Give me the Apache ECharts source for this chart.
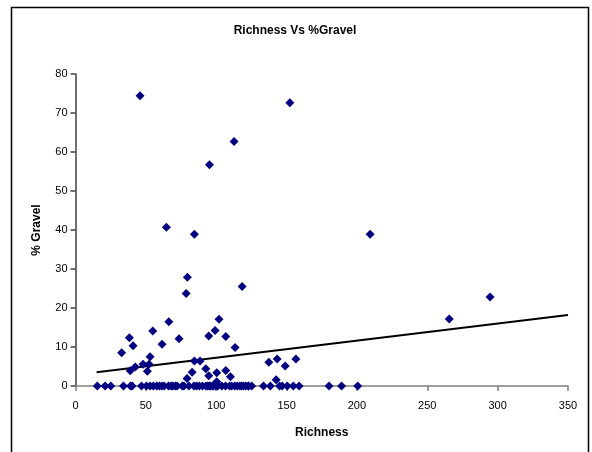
<!DOCTYPE html>
<html>
<head>
<meta charset="utf-8">
<script src="https://cdn.jsdelivr.net/npm/echarts@6/dist/echarts.min.js"></script>
<style>
  html, body { margin: 0; padding: 0; background: #fff; }
  #chart { width: 592px; height: 452px; }
</style>
</head>
<body>
<div id="chart"></div>
<script>
// Richness (x) of each sample and its % gravel (y)
const richness = [
  45.9, 95.2, 112.7, 152.3, 209.4, 265.6, 294.6,
  64.6, 84.5, 79.5, 78.6, 118.4,
  32.8, 38.3, 40.9, 38.9, 42.5, 48.0, 51.1, 52.3, 53.0, 54.9, 61.5, 66.3, 73.6,
  79.3, 82.9, 84.5, 88.5, 92.6, 94.7, 94.7, 99.2, 100.4, 102.0,
  106.8, 113.4, 106.8, 110.1, 100.4, 137.4, 143.3, 149.0, 156.6, 142.6,
  15.5, 21.0, 25.1, 34.1, 39.1, 40.3, 46.9, 50.4, 55.3, 57.7, 59.6, 61.3,
  66.1, 69.3, 72.2, 75.8, 80.6, 84.2, 90.2, 92.7, 95.1, 97.4, 99.9,
  106.6, 109.5, 113.2, 116.8, 119.2, 122.8, 125.2, 133.6, 138.5,
  146.9, 150.5, 154.8, 158.9, 180.2, 189.1, 200.6,
  53.0, 63.0, 68.0, 71.0, 77.0, 86.0, 88.0, 94.0, 96.0, 98.0,
  101.0, 104.0, 111.0, 115.0, 118.0, 121.0, 123.0, 145.0
];
const gravel = [
  74.4, 56.7, 62.7, 72.6, 38.9, 17.2, 22.8,
  40.7, 38.9, 27.9, 23.7, 25.5,
  8.5, 12.4, 10.3, 3.9, 4.9, 5.6, 3.8, 5.6, 7.5, 14.1, 10.7, 16.5, 12.1,
  1.9, 3.5, 6.4, 6.4, 4.4, 12.8, 2.6, 14.2, 3.4, 17.1,
  12.7, 9.9, 4.0, 2.4, 1.1, 6.1, 6.9, 5.1, 6.9, 1.6,
  0, 0, 0, 0, 0, 0, 0, 0, 0, 0, 0, 0,
  0, 0, 0, 0, 0, 0, 0, 0, 0, 0, 0,
  0, 0, 0, 0, 0, 0, 0, 0, 0,
  0, 0, 0, 0, 0, 0, 0,
  0, 0, 0, 0, 0, 0, 0, 0, 0, 0,
  0, 0, 0, 0, 0, 0, 0, 0
];

// Linear trend line end points (richness, % gravel)
const trendX = [15, 350];
const trendY = [3.5, 18.2];

const xTicks = { min: 0, max: 350, interval: 50 };
const yTicks = { min: 0, max: 80, interval: 10 };

const points = richness.map((r, i) => [r, gravel[i]]);
const trend = trendX.map((x, i) => [x, trendY[i]]);

const font = '"Liberation Sans", Arial, sans-serif';
const chart = echarts.init(document.getElementById('chart'), null, { renderer: 'canvas' });

chart.setOption({
  animation: false,
  backgroundColor: '#ffffff',
  title: {
    text: 'Richness Vs %Gravel',
    left: 290,
    top: 20,
    textAlign: 'center',
    textStyle: { fontFamily: font, fontSize: 12, fontWeight: 'bold', color: '#000' }
  },
  graphic: [{
    type: 'rect',
    shape: { x: 11.5, y: 7.5, width: 577, height: 460 },
    style: { fill: 'none', stroke: '#000', lineWidth: 1.5 },
    silent: true
  }],
  grid: { left: 75.5, right: 24, top: 74, bottom: 66 },
  xAxis: {
    type: 'value',
    min: xTicks.min, max: xTicks.max, interval: xTicks.interval,
    name: 'Richness',
    nameLocation: 'middle',
    nameGap: 41,
    nameTextStyle: { fontFamily: font, fontSize: 12, fontWeight: 'bold', color: '#000' },
    axisLine: { show: true, onZero: false, lineStyle: { color: '#808080', width: 1.5 } },
    axisTick: { show: true, length: 5, lineStyle: { color: '#808080', width: 1.5 } },
    axisLabel: { fontFamily: font, fontSize: 11, color: '#000', margin: 14 },
    splitLine: { show: false }
  },
  yAxis: {
    type: 'value',
    min: yTicks.min, max: yTicks.max, interval: yTicks.interval,
    name: '% Gravel',
    nameLocation: 'middle',
    nameGap: 33,
    nameRotate: 90,
    nameTextStyle: { fontFamily: font, fontSize: 12, fontWeight: 'bold', color: '#000' },
    axisLine: { show: true, lineStyle: { color: '#404040', width: 1.5 } },
    axisTick: { show: true, length: 5, lineStyle: { color: '#404040', width: 1.5 } },
    axisLabel: { fontFamily: font, fontSize: 11, color: '#000', margin: 8 },
    splitLine: { show: false }
  },
  series: [
    {
      type: 'line',
      data: trend,
      symbol: 'none',
      lineStyle: { color: '#000', width: 2 },
      z: 3
    },
    {
      type: 'scatter',
      data: points,
      symbol: 'diamond',
      symbolSize: 9,
      itemStyle: { color: '#000080', opacity: 1 },
      z: 4
    }
  ]
});
</script>
</body>
</html>
